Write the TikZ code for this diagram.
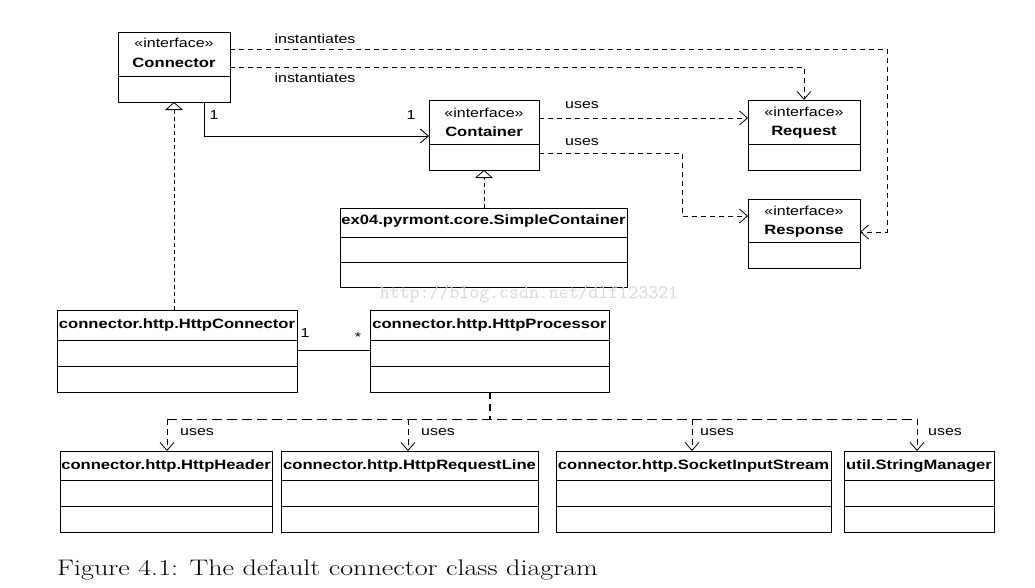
\documentclass[tikz,border=0pt]{standalone}
\usepackage{fontspec}
\usepackage{graphicx}
\usetikzlibrary{arrows.meta}
\newfontfamily\umlfont[FakeStretch=1.23]{Liberation Sans}
\tikzset{
  cls/.style={draw=black, line width=0.9pt, inner sep=0pt, outer sep=0pt, anchor=north west},
  cname/.style={font=\umlfont\bfseries\fontsize{13.5}{15}\selectfont, inner sep=0pt},
  stereo/.style={font=\umlfont\fontsize{13}{15}\selectfont, inner sep=0pt},
  lbl/.style={font=\umlfont\fontsize{13}{15}\selectfont, inner sep=0pt},
  divider/.style={draw, line width=0.9pt},
  dep/.style={draw, line width=0.8pt, dash pattern=on 5pt off 4pt, -{Straight Barb[length=8pt,width=14pt]}},
  usedash/.style={draw, line width=0.8pt, dash pattern=on 10pt off 5pt},
  usearrow/.style={usedash, dash pattern=on 6pt off 4pt, -{Straight Barb[length=8pt,width=14pt]}},
  assoc/.style={draw, line width=0.9pt},
  real/.style={draw, line width=0.8pt, dash pattern=on 4pt off 3pt, -{Triangle[open,length=8pt,width=18pt]}},
}
\begin{document}
\begin{tikzpicture}[x=1pt,y=-1pt]
\fill[white] (0,0) rectangle (1035,587);
\useasboundingbox (0,0) rectangle (1035,587);

% ---------- Connector
\node[cls, minimum width=112pt, minimum height=70pt] (Connector) at (118,32) {};
\draw[divider] (Connector.west |- 0,76) -- (Connector.east |- 0,76);
\node[stereo] (ConnectorS) at (174,43) {«interface»};
\node[cname] (ConnectorN) at (174,63) {Connector};

% ---------- Container
\node[cls, minimum width=110pt, minimum height=70pt] (Container) at (429,100) {};
\draw[divider] (Container.west |- 0,144) -- (Container.east |- 0,144);
\node[stereo] (ContainerS) at (484,113) {«interface»};
\node[cname] (ContainerN) at (484,132) {Container};

% ---------- Request
\node[cls, minimum width=112pt, minimum height=70pt] (Request) at (748,100) {};
\draw[divider] (Request.west |- 0,144) -- (Request.east |- 0,144);
\node[stereo] (RequestS) at (804,112) {«interface»};
\node[cname] (RequestN) at (804,132) {Request};

% ---------- Response
\node[cls, minimum width=112pt, minimum height=69pt] (Response) at (748,199) {};
\draw[divider] (Response.west |- 0,242) -- (Response.east |- 0,242);
\node[stereo] (ResponseS) at (804,211) {«interface»};
\node[cname] (ResponseN) at (804,231) {Response};

% ---------- SimpleContainer
\node[cls, minimum width=287pt, minimum height=79pt] (Simple) at (340,208) {};
\draw[divider] (Simple.west |- 0,237) -- (Simple.east |- 0,237);
\draw[divider] (Simple.west |- 0,262) -- (Simple.east |- 0,262);
\node[cname] (SimpleN) at (483.5,221) {ex04.pyrmont.core.SimpleContainer};

% ---------- watermark
\node[anchor=base, text=black!15, font=\ttfamily\fontsize{19.3}{21}\selectfont, inner sep=0pt] (wm) at (529,298) {http://blog.csdn.net/dlf123321};

% ---------- HttpConnector
\node[cls, minimum width=240pt, minimum height=82pt] (HttpConnector) at (57,310) {};
\draw[divider] (HttpConnector.west |- 0,340) -- (HttpConnector.east |- 0,340);
\draw[divider] (HttpConnector.west |- 0,366) -- (HttpConnector.east |- 0,366);
\node[cname] (HttpConnectorN) at (177,325) {connector.http.HttpConnector};

% ---------- HttpProcessor
\node[cls, minimum width=239pt, minimum height=82pt] (HttpProcessor) at (370,310) {};
\draw[divider] (HttpProcessor.west |- 0,340) -- (HttpProcessor.east |- 0,340);
\draw[divider] (HttpProcessor.west |- 0,366) -- (HttpProcessor.east |- 0,366);
\node[cname] (HttpProcessorN) at (489.5,325) {connector.http.HttpProcessor};

% ---------- bottom row
\node[cls, minimum width=212pt, minimum height=81pt] (HttpHeader) at (60,451) {};
\draw[divider] (HttpHeader.west |- 0,480) -- (HttpHeader.east |- 0,480);
\draw[divider] (HttpHeader.west |- 0,506) -- (HttpHeader.east |- 0,506);
\node[cname] (HttpHeaderN) at (166,466) {connector.http.HttpHeader};

\node[cls, minimum width=257pt, minimum height=81pt] (HttpRequestLine) at (281,451) {};
\draw[divider] (HttpRequestLine.west |- 0,480) -- (HttpRequestLine.east |- 0,480);
\draw[divider] (HttpRequestLine.west |- 0,506) -- (HttpRequestLine.east |- 0,506);
\node[cname] (HttpRequestLineN) at (409.5,466) {connector.http.HttpRequestLine};

\node[cls, minimum width=275pt, minimum height=81pt] (SocketInputStream) at (556,451) {};
\draw[divider] (SocketInputStream.west |- 0,480) -- (SocketInputStream.east |- 0,480);
\draw[divider] (SocketInputStream.west |- 0,506) -- (SocketInputStream.east |- 0,506);
\node[cname] (SocketInputStreamN) at (693.5,466) {connector.http.SocketInputStream};

\node[cls, minimum width=150pt, minimum height=81pt] (StringManager) at (844,451) {};
\draw[divider] (StringManager.west |- 0,480) -- (StringManager.east |- 0,480);
\draw[divider] (StringManager.west |- 0,506) -- (StringManager.east |- 0,506);
\node[cname] (StringManagerN) at (919,466) {util.StringManager};

% ---------- connectors: instantiates
\draw[dep] (Connector.east |- 0,67) -| (Request.north);
\coordinate (c1) at (887,232);
\draw[dep] (Connector.east |- 0,49) -| (c1) -- (Response.east |- c1);
\node[lbl] (inst1) at (315,39) {instantiates};
\node[lbl] (inst2) at (315,78) {instantiates};

% Connector -> Container association
\draw[assoc, -{Straight Barb[length=8pt,width=14pt]}] (Connector.south -| 204,0) |- (Container.west |- 0,136);
\node[lbl] (m1) at (214,115) {1};
\node[lbl] (m2) at (411,115) {1};

% Container uses Request / Response
\draw[dep] (Container.east |- 0,118) -- (Request.west |- 0,118);
\node[lbl] (u1) at (582,105) {uses};
\coordinate (c2) at (682,216);
\draw[dep] (Container.east |- 0,153) -| (c2) -- (Response.west |- c2);
\node[lbl] (u2) at (582,142) {uses};

% realizations
\draw[real] (Simple.north -| 484,0) -- (Container.south -| 484,0);
\draw[real] (HttpConnector.north -| Connector.south) -- (Connector.south);

% HttpConnector -- HttpProcessor
\draw[assoc] (HttpConnector.east |- 0,350) -- (HttpProcessor.west |- 0,350);
\node[lbl] (m3) at (305,333) {1};
\node[lbl] (m4) at (358,337) {*};

% HttpProcessor uses
\coordinate (hub) at (490,419);
\coordinate (b1) at (167,419);
\coordinate (b2) at (408,419);
\coordinate (b3) at (692,419);
\coordinate (b4) at (917,419);
\draw[line width=2.4pt, dash pattern=on 7pt off 5pt] (HttpProcessor.south -| hub) -- (hub);
\draw[usedash] (b1) -- (b4);
\draw[usearrow] (b1) -- (HttpHeader.north -| b1);
\draw[usearrow] (b2) -- (HttpRequestLine.north -| b2);
\draw[usearrow] (b3) -- (SocketInputStream.north -| b3);
\draw[usearrow] (b4) -- (StringManager.north -| b4);
\node[lbl] (u3) at (197,432) {uses};
\node[lbl] (u4) at (438,432) {uses};
\node[lbl] (u5) at (717,432) {uses};
\node[lbl] (u6) at (945,432) {uses};

% caption
\node[anchor=base west, inner sep=0pt] (caption) at (57,575) {\scalebox{1.25}[1]{\fontsize{22.5}{26}\selectfont Figure 4.1: The default connector class diagram}};
\end{tikzpicture}
\end{document}
